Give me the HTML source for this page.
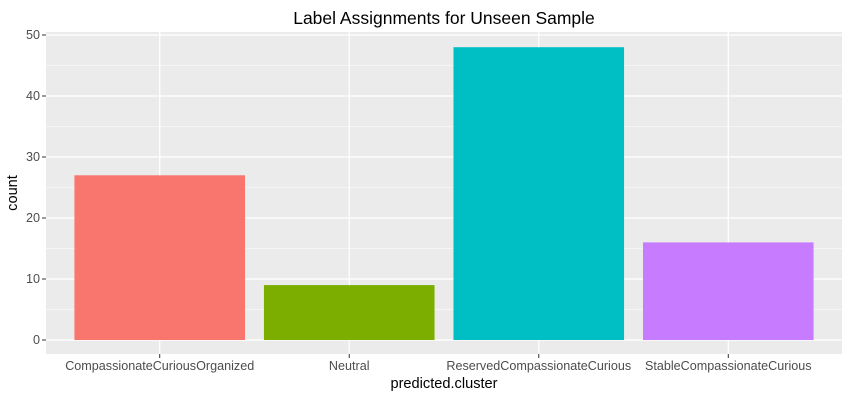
<!DOCTYPE html>
<html><head><meta charset="utf-8"><style>
body{margin:0;background:#fff;width:850px;height:400px;overflow:hidden}
text{font-family:"Liberation Sans",Arial,sans-serif}
</style></head><body>
<svg id="chart" width="850" height="400" xmlns="http://www.w3.org/2000/svg">
<text x="444" y="24" font-size="17.5" text-anchor="middle" fill="#000">Label Assignments for Unseen Sample</text>
<rect x="46" y="32" width="796" height="322" fill="#ebebeb"/>
<g id="grid"></g><g id="bars"></g><g id="axes"></g>
<text x="444" y="388" font-size="14.6" text-anchor="middle">predicted.cluster</text>
<text transform="translate(17,193) rotate(-90)" font-size="14.6" text-anchor="middle">count</text>
</svg>
<script>
const categories=["CompassionateCuriousOrganized","Neutral","ReservedCompassionateCurious","StableCompassionateCurious"];
const counts=[27,9,48,16];
const colors=["#F8766D","#7CAE00","#00BFC4","#C77CFF"];
const yTicks=[0,10,20,30,40,50];
const NS="http://www.w3.org/2000/svg";
const pl=46,pr=842,pt=32,pb=354;
const y0=340,y50=35;
function ys(v){return y0-(y0-y50)*v/50;}
function xs(i){return pl+(pr-pl)*(i+1-0.4)/4.2;}
const bw=(pr-pl)*0.9/4.2;
function mk(tag,at,parent){const e=document.createElementNS(NS,tag);for(const k in at)e.setAttribute(k,at[k]);parent.appendChild(e);return e;}
const grid=document.getElementById('grid'),bars=document.getElementById('bars'),axes=document.getElementById('axes');
for(let t=0;t<=50;t+=5){const minor=t%10!==0;
 const l=mk('line',{x1:pl,x2:pr,y1:ys(t),y2:ys(t),stroke:'#fff','stroke-width':minor?0.6:1.2},grid);
 
 }
categories.forEach((c,i)=>{const l=mk('line',{x1:xs(i),x2:xs(i),y1:pt,y2:pb,stroke:'#fff','stroke-width':1.2},grid);
 
 });
categories.forEach((c,i)=>{const r=mk('rect',{x:xs(i)-bw/2,y:ys(counts[i]),width:bw,height:ys(0)-ys(counts[i]),fill:colors[i]},bars);
 
 
 const tk=mk('line',{x1:xs(i),x2:xs(i),y1:pb,y2:pb+4,stroke:'#333','stroke-width':1},axes);
 
 
 const tx=mk('text',{x:xs(i),y:pb+16,'font-size':12.6,'text-anchor':'middle',fill:'#4d4d4d'},axes);tx.textContent=c;
 
 });
yTicks.forEach(t=>{const tk=mk('line',{x1:pl-4,x2:pl,y1:ys(t),y2:ys(t),stroke:'#333','stroke-width':1},axes);
 
 
 const tx=mk('text',{x:pl-6,y:ys(t)+4,'font-size':12.6,'text-anchor':'end',fill:'#4d4d4d'},axes);tx.textContent=t;
 
 });
</script>
</body></html>
